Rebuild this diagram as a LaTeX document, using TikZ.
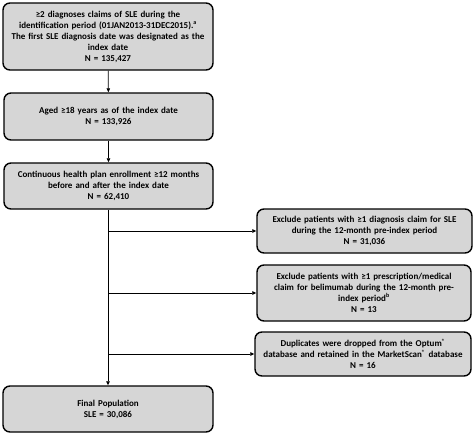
\documentclass[tikz,border=0pt]{standalone}
\usepackage{fontspec}
\setmainfont{Carlito}
\usetikzlibrary{arrows.meta}

\tikzset{
  flowbox/.style={draw=black, line width=1.4pt, fill=black!16, rounded corners=7pt,
    align=center, font=\bfseries\fontsize{9}{11}\selectfont, inner sep=2pt},
  flowarrow/.style={-{Triangle[length=4pt,width=3.5pt]}, line width=0.7pt}
}

\begin{document}
\begin{tikzpicture}[x=1pt,y=-1pt]
\useasboundingbox (0,0) rectangle (474,434);
% main column
\node[flowbox, minimum width=210pt, minimum height=67pt, text width=206pt] (ident) at (108,36.5)
  {≥2 diagnoses claims of SLE during the\\ identification period (01JAN2013-31DEC2015).\textsuperscript{a}\\ The first SLE diagnosis date was designated as the\\ index date\\ N = 135,427};
\node[flowbox, minimum width=209pt, minimum height=47pt, text width=205pt] (age) at (108.5,116.5)
  {Aged ≥18 years as of the index date\\ N = 133,926};
\node[flowbox, minimum width=209pt, minimum height=46pt, text width=205pt] (enrol) at (108.5,186)
  {Continuous health plan enrollment ≥12 months\\ before and after the index date\\ N = 62,410};
\node[flowbox, minimum width=210pt, minimum height=46pt, text width=206pt] (final) at (108,409)
  {Final Population\\ SLE = 30,086};
% exclusions
\node[flowbox, minimum width=215pt, minimum height=44pt, text width=211pt] (excl1) at (364.5,231)
  {Exclude patients with ≥1 diagnosis claim for SLE\\ during the 12-month pre-index period\\ N = 31,036};
\node[flowbox, minimum width=214pt, minimum height=56pt, text width=210pt] (excl2) at (364,293)
  {Exclude patients with ≥1 prescription/medical\\ claim for belimumab during the 12-month pre-\\ index period\textsuperscript{b}\\ N = 13};
\node[flowbox, minimum width=216pt, minimum height=44pt, text width=212pt] (excl3) at (363,354)
  {Duplicates were dropped from the Optum\textsuperscript{®}\\ database and retained in the MarketScan\textsuperscript{®} database\\ N = 16};
% connectors
\coordinate (b1) at (108,231);
\coordinate (b2) at (108,293);
\coordinate (b3) at (108,354);
\draw[flowarrow] (ident) -- (age);
\draw[flowarrow] (age) -- (enrol);
\draw[flowarrow] (enrol.south -| final.north) -- (final.north);
\draw[flowarrow] (b1) -- (excl1.west);
\draw[flowarrow] (b2) -- (excl2.west);
\draw[flowarrow] (b3) -- (excl3.west);
\end{tikzpicture}
\end{document}
